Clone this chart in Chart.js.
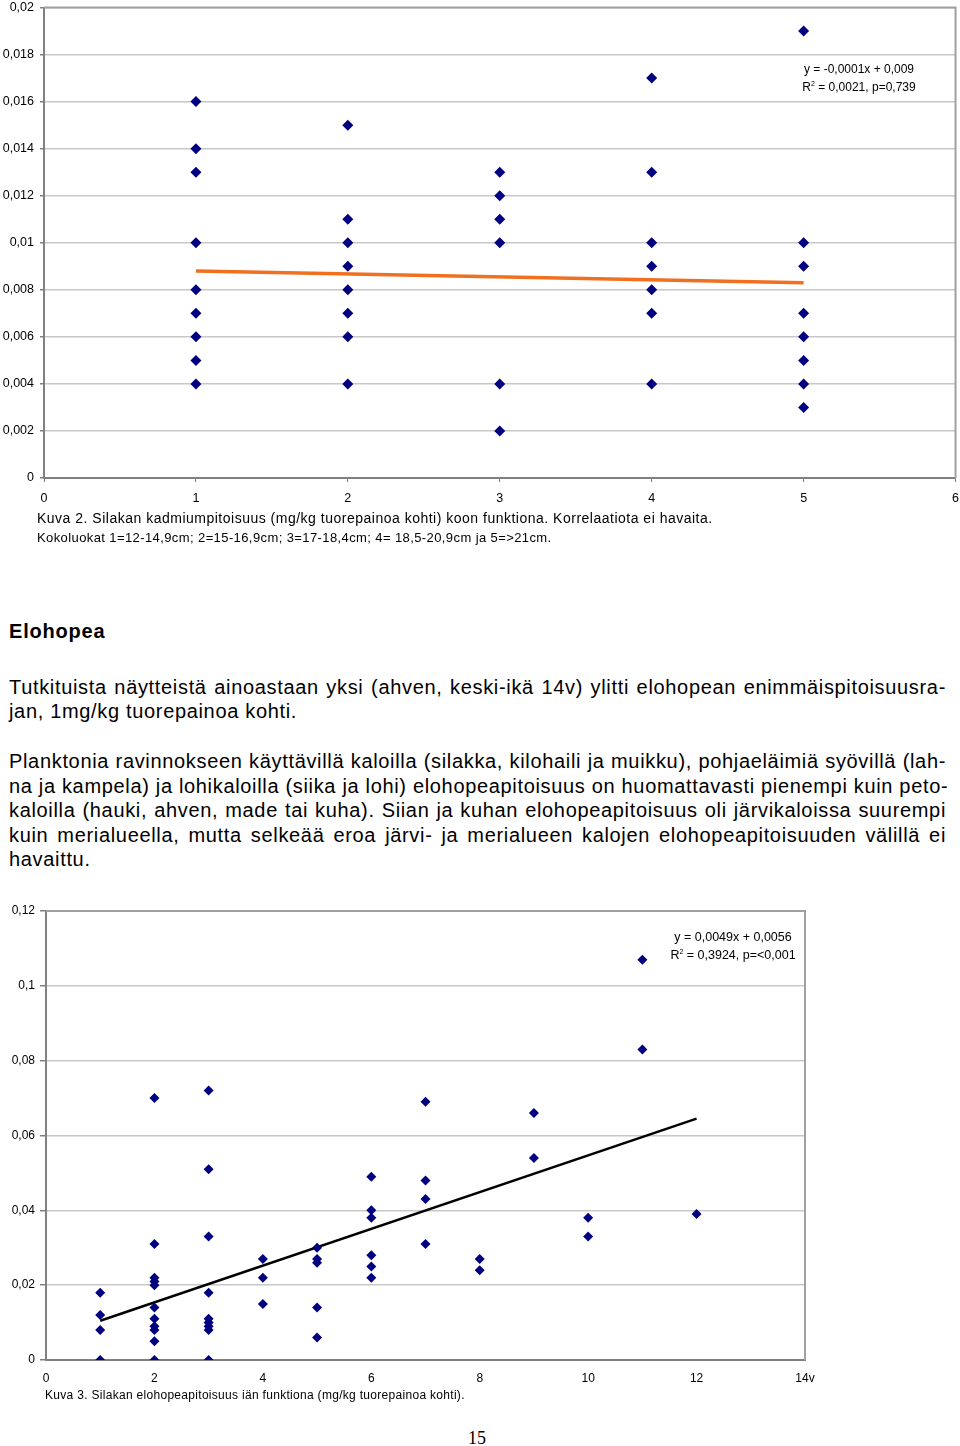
<!DOCTYPE html>
<html><head><meta charset="utf-8">
<script src="https://cdn.jsdelivr.net/npm/chart.js@4.4.1/dist/chart.umd.min.js"></script>
<style>
html,body{margin:0;padding:0;background:#fff}
body{width:960px;height:1446px;position:relative;overflow:hidden;font-family:"Liberation Sans",Arial,sans-serif;color:#000}
.abs{position:absolute;white-space:nowrap}
.ln{position:absolute;left:9px;width:937px;font-size:20px;letter-spacing:0.67px;line-height:24px;text-align:justify;text-align-last:justify;white-space:nowrap}
.ln.last{text-align-last:left}
.eq{position:absolute;font-size:12px;line-height:18px;text-align:center;white-space:nowrap}
sup{font-size:7px;vertical-align:5px;line-height:0}
</style>
</head><body>
<div class="abs" style="left:0;top:-6px;width:968px;height:516px"><canvas id="c1"></canvas></div>
<div class="eq" style="left:799px;top:60px;width:120px">y = -0,0001x + 0,009<br>R<sup>2</sup> = 0,0021, p=0,739</div>
<div class="abs" style="left:37px;top:509px;font-size:14px;letter-spacing:0.5px;line-height:19px">Kuva 2. Silakan kadmiumpitoisuus (mg/kg tuorepainoa kohti) koon funktiona. Korrelaatiota ei havaita.</div>
<div class="abs" style="left:37px;top:528px;font-size:13px;letter-spacing:0.4px;line-height:19px">Kokoluokat 1=12-14,9cm; 2=15-16,9cm; 3=17-18,4cm; 4= 18,5-20,9cm ja 5=&gt;21cm.</div>

<div class="abs" style="left:9px;top:619px;font-size:20px;letter-spacing:0.8px;font-weight:bold;line-height:24px">Elohopea</div>
<div class="ln" style="top:675px">Tutkituista näytteistä ainoastaan yksi (ahven, keski-ikä 14v) ylitti elohopean enimmäispitoisuusra-</div>
<div class="ln last" style="top:699px">jan, 1mg/kg tuorepainoa kohti.</div>
<div class="ln" style="top:749px">Planktonia ravinnokseen käyttävillä kaloilla (silakka, kilohaili ja muikku), pohjaeläimiä syövillä (lah-</div>
<div class="ln" style="top:774px">na ja kampela) ja lohikaloilla (siika ja lohi) elohopeapitoisuus on huomattavasti pienempi kuin peto-</div>
<div class="ln" style="top:798px">kaloilla (hauki, ahven, made tai kuha). Siian ja kuhan elohopeapitoisuus oli järvikaloissa suurempi</div>
<div class="ln" style="top:823px">kuin merialueella, mutta selkeää eroa järvi- ja merialueen kalojen elohopeapitoisuuden välillä ei</div>
<div class="ln last" style="top:847px">havaittu.</div>

<div class="abs" style="left:0;top:895px;width:960px;height:495px"><canvas id="c2"></canvas></div>
<div class="eq" style="left:666px;top:928px;width:134px;font-size:12.5px">y = 0,0049x + 0,0056<br>R<sup>2</sup> = 0,3924, p=&lt;0,001</div>
<div class="abs" style="left:45px;top:1387px;font-size:12px;letter-spacing:0.3px;line-height:16px">Kuva 3. Silakan elohopeapitoisuus iän funktiona (mg/kg tuorepainoa kohti).</div>
<div class="abs" style="left:468px;top:1427px;font-family:'Liberation Serif','Times New Roman',serif;font-size:18px;line-height:22px">15</div>

<script>
// ---- Chart 1: cadmium by size class ----
const cdClass1 = [0.016, 0.014, 0.013, 0.010, 0.008, 0.007, 0.006, 0.005, 0.004];
const cdClass2 = [0.015, 0.011, 0.010, 0.009, 0.008, 0.007, 0.006, 0.004];
const cdClass3 = [0.013, 0.012, 0.011, 0.010, 0.004, 0.002];
const cdClass4 = [0.017, 0.013, 0.010, 0.009, 0.008, 0.007, 0.004];
const cdClass5 = [0.019, 0.010, 0.009, 0.007, 0.006, 0.005, 0.004, 0.003];
const cdTrendX = [1, 5];
const cdTrendY = [0.0088, 0.0083];
const cdYTicks = ['0', '0,002', '0,004', '0,006', '0,008', '0,01', '0,012', '0,014', '0,016', '0,018', '0,02'];
const cdXTicks = ['0', '1', '2', '3', '4', '5', '6'];

// ---- Chart 2: mercury by age ----
const hgAge1 = [0.018, 0.012, 0.008, 0];
const hgAge2 = [0.070, 0.031, 0.022, 0.021, 0.020, 0.014, 0.011, 0.009, 0.008, 0.005, 0];
const hgAge3 = [0.072, 0.051, 0.033, 0.018, 0.011, 0.010, 0.009, 0.008, 0];
const hgAge4 = [0.027, 0.022, 0.015];
const hgAge5 = [0.030, 0.027, 0.026, 0.014, 0.006];
const hgAge6 = [0.049, 0.040, 0.038, 0.028, 0.025, 0.022];
const hgAge7 = [0.069, 0.048, 0.043, 0.031];
const hgAge8 = [0.027, 0.024];
const hgAge9 = [0.066, 0.054];
const hgAge10 = [0.038, 0.033];
const hgAge11 = [0.107, 0.083];
const hgAge12 = [0.039];
const hgTrendX = [1, 12];
const hgTrendY = [0.0105, 0.0645];
const hgYTicks = ['0', '0,02', '0,04', '0,06', '0,08', '0,1', '0,12'];
const hgXTicks = ['0', '2', '4', '6', '8', '10', '12', '14v'];

const cdGroups = [cdClass1, cdClass2, cdClass3, cdClass4, cdClass5];
const hgGroups = [hgAge1, hgAge2, hgAge3, hgAge4, hgAge5, hgAge6, hgAge7, hgAge8, hgAge9, hgAge10, hgAge11, hgAge12];

function toPoints(groups) {
  const pts = [];
  groups.forEach((g, i) => g.forEach(v => pts.push({x: i + 1, y: v})));
  return pts;
}
function trend(xs, ys) { return xs.map((x, i) => ({x: x, y: ys[i]})); }

const FONT = "'Liberation Sans', Arial, sans-serif";
const framePlugin = {
  id: 'frame',
  beforeDatasetsDraw(chart) {
    const a = chart.chartArea, ctx = chart.ctx;
    ctx.save();
    ctx.strokeStyle = '#a0a0a0';
    ctx.lineWidth = 2;
    ctx.beginPath();
    ctx.moveTo(a.left, a.top);
    ctx.lineTo(a.right, a.top);
    ctx.lineTo(a.right, a.bottom);
    ctx.stroke();
    ctx.restore();
  }
};

const marker = {
  pointStyle: 'rectRot', pointRadius: 5.5, pointHoverRadius: 5.5,
  backgroundColor: '#000080', borderColor: '#000080', borderWidth: 0
};

new Chart(document.getElementById('c1'), {
  type: 'scatter',
  data: {
    datasets: [
      Object.assign({ data: toPoints(cdGroups), order: 1 }, marker),
      { type: 'line', data: trend(cdTrendX, cdTrendY), borderColor: '#f07020', borderWidth: 3.5,
        pointRadius: 0, fill: false, showLine: true, order: 2 }
    ]
  },
  options: {
    responsive: true, maintainAspectRatio: false, animation: false,
    layout: { padding: { left: 0, right: 0, top: 0, bottom: 0 } },
    plugins: { legend: { display: false }, tooltip: { enabled: false } },
    scales: {
      x: {
        type: 'linear', min: 0, max: 6,
        afterFit(s) { s.height = 32; },
        ticks: { stepSize: 1, color: '#000', font: { family: FONT, size: 12.5 }, padding: 9, maxRotation: 0,
                 callback: (v, i) => cdXTicks[i] },
        grid: { drawOnChartArea: false, drawTicks: true, tickLength: 4, tickColor: '#808080' },
        border: { color: '#808080', width: 2 }
      },
      y: {
        min: 0, max: 0.02,
        afterFit(s) { s.width = 44; },
        ticks: { stepSize: 0.002, color: '#000', font: { family: FONT, size: 12.5 }, padding: 6,
                 callback: (v, i) => cdYTicks[i] },
        grid: { color: '#c8c8c8', lineWidth: 1.5, tickLength: 4, tickColor: '#808080' },
        border: { color: '#808080', width: 2 }
      }
    }
  },
  plugins: [framePlugin]
});

new Chart(document.getElementById('c2'), {
  type: 'scatter',
  data: {
    datasets: [
      Object.assign({ data: toPoints(hgGroups), order: 1 }, marker, { pointRadius: 5 }),
      { type: 'line', data: trend(hgTrendX, hgTrendY), borderColor: '#000', borderWidth: 2.5,
        pointRadius: 0, fill: false, showLine: true, order: 2 }
    ]
  },
  options: {
    responsive: true, maintainAspectRatio: false, animation: false,
    layout: { padding: { left: 0, right: 155, top: 16, bottom: 0 } },
    plugins: { legend: { display: false }, tooltip: { enabled: false } },
    scales: {
      x: {
        type: 'linear', min: 0, max: 14,
        afterFit(s) { s.height = 30; },
        ticks: { stepSize: 2, color: '#000', font: { family: FONT, size: 12 }, padding: 11, maxRotation: 0,
                 callback: (v, i) => hgXTicks[i] },
        grid: { drawOnChartArea: false, drawTicks: false },
        border: { color: '#808080', width: 2 }
      },
      y: {
        min: 0, max: 0.12,
        afterFit(s) { s.width = 46; },
        ticks: { stepSize: 0.02, color: '#000', font: { family: FONT, size: 12 }, padding: 5,
                 callback: (v, i) => hgYTicks[i] },
        grid: { color: '#c8c8c8', lineWidth: 1.5, tickLength: 6, tickColor: '#808080' },
        border: { color: '#808080', width: 2 }
      }
    }
  },
  plugins: [framePlugin]
});
</script>
</body></html>
